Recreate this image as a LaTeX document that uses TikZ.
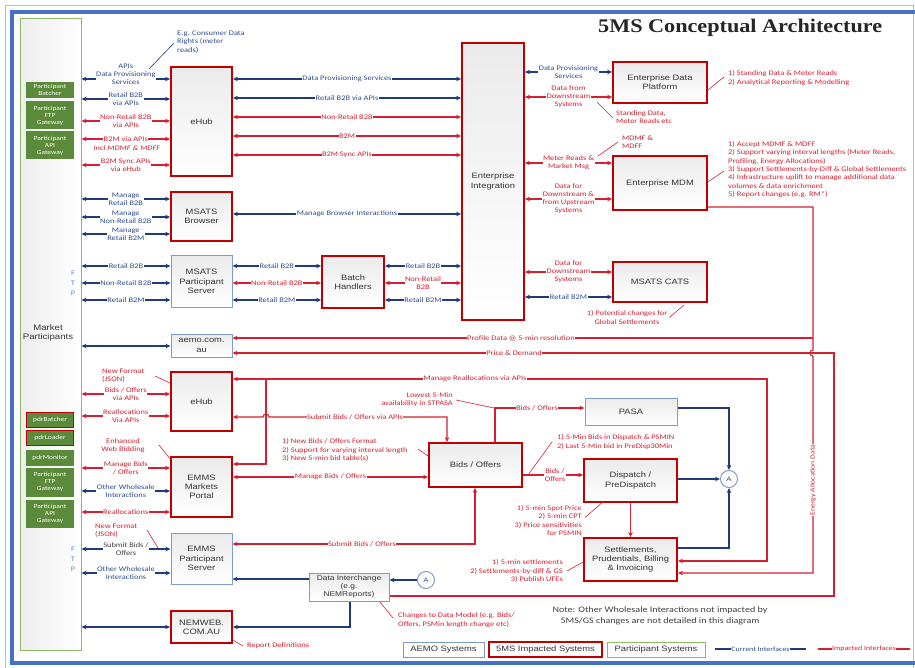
\documentclass[tikz,border=0pt]{standalone}
\usepackage{fontspec}
\setmainfont{Carlito}[FakeStretch=1.2]
\newfontfamily\boxfont{Liberation Sans}[FakeStretch=1.2]
\newfontfamily\titlefont{Liberation Serif}[FakeStretch=1.15]
\usetikzlibrary{arrows.meta,calc,positioning}

\definecolor{navy}{HTML}{1F3B7D}
\definecolor{navytext}{HTML}{2F4C8F}
\definecolor{impred}{HTML}{D42030}
\definecolor{boxred}{HTML}{C00000}
\definecolor{aemoedge}{HTML}{7F9DC2}
\definecolor{partfill}{HTML}{5A8A3A}
\definecolor{partedge}{HTML}{8CBB68}
\definecolor{framebl}{HTML}{4472C4}
\definecolor{ftpblue}{HTML}{5B8FD0}

\tikzset{
  impbox/.style={draw=boxred,line width=1.8pt,top color=gray!16,bottom color=white,
    font=\boxfont\fontsize{7.8}{9.3}\selectfont,text=black!80,align=center,inner sep=0pt},
  aemobox/.style={impbox,draw=aemoedge,line width=1pt},
  legbox/.style={draw,fill=white,minimum height=15pt,inner sep=0pt,
    font=\boxfont\fontsize{7.8}{9}\selectfont,text=black!80},
  partbox/.style={fill=partfill,text=white,font=\fontsize{6.2}{7}\selectfont,align=center,
    inner sep=0pt,minimum width=48pt},
  pdrbox/.style={partbox,draw=boxred,line width=1.2pt,minimum width=47pt},
  cur/.style={navy,line width=1.1pt},
  imp/.style={impred,line width=1.1pt},
  biarr/.style={{Stealth[length=5pt,width=4.5pt]}-{Stealth[length=5pt,width=4.5pt]}},
  fwd/.style={-{Stealth[length=5pt,width=4.5pt]}},
  clbl/.style={fill=white,inner sep=0.5pt,font=\fontsize{7}{8}\selectfont,align=center,text=navytext},
  ilbl/.style={clbl,text=impred},
  inote/.style={inner sep=0pt,font=\fontsize{7}{8.3}\selectfont,text=impred,align=left},
  remark/.style={impred,line width=0.6pt},
  joint/.style={circle,draw=aemoedge,line width=1pt,fill=white,minimum size=17pt,inner sep=0pt,
    font=\boxfont\fontsize{6.5}{7}\selectfont,text=navytext}
}

\begin{document}
\begin{tikzpicture}[x=1pt,y=-1pt]
\useasboundingbox (0,0) rectangle (915,668);
\fill[white] (0,0) rectangle (915,668);
\draw[gray!50,line width=0.8pt] (5,668) -- (5,5) -- (913,5) -- (913,668);
\draw[framebl,line width=4pt] (915,12) -- (11.5,12) -- (11.5,663) -- (915,663);

\node[font=\titlefont\bfseries\fontsize{19.3}{21}\selectfont,anchor=west,inner sep=0pt,text=black!85] (title) at (598,28) {5MS Conceptual Architecture};

\node[draw=partedge,line width=1pt,left color=gray!14,right color=white,minimum width=61pt,minimum height=631pt,inner sep=0pt] (mp) at (50.5,334.5) {};
\node[font=\boxfont\fontsize{8}{9.5}\selectfont,align=center,text=black!80] (mptext) at (48,333) {Market\\Participants};

\node[partbox,minimum height=16pt] (pbatch) at (50,90) {Participant\\Batcher};
\node[partbox,minimum height=28pt] (pftp) at (50,115.5) {Participant\\FTP\\Gateway};
\node[partbox,minimum height=28pt] (papi) at (50,145.5) {Participant\\API\\Gateway};
\node[pdrbox,minimum height=15pt] (pdrb) at (50,420) {pdrBatcher};
\node[pdrbox,minimum height=15pt] (pdrl) at (50,438) {pdrLoader};
\node[partbox,minimum height=16pt] (pdrm) at (50,458) {pdrMonitor};
\node[partbox,minimum height=29pt] (pftpb) at (50,482) {Participant\\FTP\\Gateway};
\node[partbox,minimum height=28pt] (papib) at (50,513.5) {Participant\\API\\Gateway};
\node[font=\fontsize{7}{10}\selectfont,text=ftpblue,align=center] (ftpa) at (73,283) {F\\T\\P};
\node[font=\fontsize{7}{10}\selectfont,text=ftpblue,align=center] (ftpb) at (73,559) {F\\T\\P};

\node[impbox,minimum width=61pt,minimum height=109pt] (ehubA) at (201.5,121.5) {eHub};
\node[impbox,minimum width=61pt,minimum height=49pt] (browser) at (201.5,216.5) {MSATS\\Browser};
\node[aemobox,minimum width=61pt,minimum height=51pt] (mps) at (201.5,281.5) {MSATS\\Participant\\Server};
\node[aemobox,minimum width=61pt,minimum height=23pt] (aemo) at (201.5,345.5) {aemo.com.\\au};
\node[impbox,minimum width=61pt,minimum height=59pt] (ehubB) at (201.5,401.5) {eHub};
\node[impbox,minimum width=61pt,minimum height=60pt] (portal) at (201.5,487) {EMMS\\Markets\\Portal};
\node[aemobox,minimum width=61pt,minimum height=51pt] (eps) at (201.5,558.5) {EMMS\\Participant\\Server};
\node[impbox,minimum width=61pt,minimum height=32pt] (nemweb) at (201.5,627) {NEMWEB.\\COM.AU};

\node[impbox,minimum width=62pt,minimum height=277pt] (ei) at (493,181.5) {Enterprise\\Integration};
\node[impbox,minimum width=62pt,minimum height=52pt] (batch) at (353,282) {Batch\\Handlers};
\node[impbox,minimum width=94pt,minimum height=41pt] (edp) at (660,82.5) {Enterprise Data\\Platform};
\node[impbox,minimum width=94pt,minimum height=54pt] (mdm) at (660,183) {Enterprise MDM};
\node[impbox,minimum width=94pt,minimum height=40pt] (cats) at (660,282) {MSATS CATS};
\node[impbox,minimum width=93pt,minimum height=44pt] (bids) at (475.5,465) {Bids / Offers};
\node[aemobox,minimum width=92pt,minimum height=27pt] (pasa) at (631,411.5) {PASA};
\node[impbox,minimum width=93pt,minimum height=43pt] (disp) at (630.5,480.5) {Dispatch /\\PreDispatch};
\node[impbox,minimum width=93pt,minimum height=43pt] (settle) at (630.5,559.5) {Settlements,\\Prudentials, Billing\\\& Invoicing};
\node[aemobox,minimum width=80pt,minimum height=28pt,font=\boxfont\fontsize{7}{8}\selectfont] (dint) at (349,587) {Data Interchange\\(e.g.\\NEMReports)};
\node[joint] (conA) at (729,479) {A};
\node[joint] (conB) at (426,580) {A};

\draw[cur,biarr] (mp.east |- 0,79) -- (ehubA.west |- 0,79) node[clbl,midway,yshift=5pt] (l1) {APIs\\Data Provisioning\\Services};
\draw[cur,biarr] (mp.east |- 0,99) -- (ehubA.west |- 0,99) node[clbl,midway] (l2) {Retail B2B\\via APIs};
\draw[imp,biarr] (mp.east |- 0,121) -- (ehubA.west |- 0,121) node[ilbl,midway] (l3) {Non-Retail B2B\\via APIs};
\draw[imp,biarr] (mp.east |- 0,139) -- (ehubA.west |- 0,139) node[ilbl,midway] (l4) {B2M via APIs};
\node[ilbl,fill=none,font=\fontsize{7}{8}\selectfont\itshape] (l4b) at (127,148) {Incl MDMF \& MDFF};
\draw[imp,biarr] (mp.east |- 0,165) -- (ehubA.west |- 0,165) node[ilbl,midway] (l5) {B2M Sync APIs\\via eHub};
\draw[cur,biarr] (mp.east |- 0,199) -- (browser.west |- 0,199) node[clbl,midway] (l6) {Manage\\Retail B2B};
\draw[cur,biarr] (mp.east |- 0,217) -- (browser.west |- 0,217) node[clbl,midway] (l7) {Manage\\Non-Retail B2B};
\draw[cur,biarr] (mp.east |- 0,234) -- (browser.west |- 0,234) node[clbl,midway] (l8) {Manage\\Retail B2M};
\draw[cur,biarr] (mp.east |- 0,266) -- (mps.west |- 0,266) node[clbl,midway] (l9) {Retail B2B};
\draw[cur,biarr] (mp.east |- 0,283) -- (mps.west |- 0,283) node[clbl,midway] (l10) {Non-Retail B2B};
\draw[cur,biarr] (mp.east |- 0,300) -- (mps.west |- 0,300) node[clbl,midway] (l11) {Retail B2M};
\draw[cur,biarr] (mp.east |- 0,346) -- (aemo.west |- 0,346);
\draw[imp,biarr] (mp.east |- 0,394) -- (ehubB.west |- 0,394) node[ilbl,midway] (l12) {Bids / Offers\\via APIs};
\draw[imp,biarr] (mp.east |- 0,416) -- (ehubB.west |- 0,416) node[ilbl,midway] (l13) {Reallocations\\Via APIs};
\draw[imp,biarr] (mp.east |- 0,468) -- (portal.west |- 0,468) node[ilbl,midway] (l14) {Manage Bids\\/ Offers};
\draw[cur,biarr] (mp.east |- 0,491) -- (portal.west |- 0,491) node[clbl,midway] (l15) {Other Wholesale\\Interactions};
\draw[imp,biarr] (mp.east |- 0,512) -- (portal.west |- 0,512) node[ilbl,midway] (l16) {Reallocations};
\draw[cur,biarr] (mp.east |- 0,549) -- (eps.west |- 0,549) node[clbl,midway,text=black!75] (l17) {Submit Bids /\\Offers};
\draw[cur,biarr] (mp.east |- 0,573) -- (eps.west |- 0,573) node[clbl,midway] (l18) {Other Wholesale\\Interactions};
\draw[cur,biarr] (mp.east |- 0,627) -- (nemweb.west |- 0,627);

\draw[cur,biarr] (ehubA.east |- 0,79) -- (ei.west |- 0,79) node[clbl,midway] (m1) {Data Provisioning Services};
\draw[cur,biarr] (ehubA.east |- 0,98) -- (ei.west |- 0,98) node[clbl,midway] (m2) {Retail B2B via APIs};
\draw[imp,biarr] (ehubA.east |- 0,117) -- (ei.west |- 0,117) node[ilbl,midway] (m3) {Non-Retail B2B};
\draw[imp,biarr] (ehubA.east |- 0,136) -- (ei.west |- 0,136) node[ilbl,midway] (m4) {B2M};
\draw[imp,biarr] (ehubA.east |- 0,155) -- (ei.west |- 0,155) node[ilbl,midway] (m5) {B2M Sync APIs};
\draw[cur,biarr] (browser.east |- 0,214) -- (ei.west |- 0,214) node[clbl,midway] (m6) {Manage Browser Interactions};
\draw[cur,biarr] (mps.east |- 0,266) -- (batch.west |- 0,266) node[clbl,midway] (m7) {Retail B2B};
\draw[imp,biarr] (mps.east |- 0,283) -- (batch.west |- 0,283) node[ilbl,midway] (m8) {Non-Retail B2B};
\draw[cur,biarr] (mps.east |- 0,300) -- (batch.west |- 0,300) node[clbl,midway] (m9) {Retail B2M};
\draw[cur,biarr] (batch.east |- 0,266) -- (ei.west |- 0,266) node[clbl,midway] (m10) {Retail B2B};
\draw[imp,biarr] (batch.east |- 0,283) -- (ei.west |- 0,283) node[ilbl,midway] (m11) {Non-Retail\\B2B};
\draw[cur,biarr] (batch.east |- 0,300) -- (ei.west |- 0,300) node[clbl,midway] (m12) {Retail B2M};

\draw[cur,biarr] (ei.east |- 0,72) -- (edp.west |- 0,72) node[clbl,midway] (r1) {Data Provisioning\\Services};
\draw[imp,biarr] (ei.east |- 0,97) -- (edp.west |- 0,97) node[ilbl,midway] (r2) {Data from\\Downstream\\Systems};
\draw[imp,biarr] (ei.east |- 0,163) -- (mdm.west |- 0,163) node[ilbl,midway] (r3) {Meter Reads \&\\Market Msg};
\draw[imp,biarr] (ei.east |- 0,199) -- (mdm.west |- 0,199) node[ilbl,midway] (r4) {Data for\\Downstream \&\\from Upstream\\Systems};
\draw[imp,biarr] (ei.east |- 0,272) -- (cats.west |- 0,272) node[ilbl,midway] (r5) {Data for\\Downstream\\Systems};
\draw[cur,biarr] (ei.east |- 0,297) -- (cats.west |- 0,297) node[clbl,midway] (r6) {Retail B2M};

\draw[imp,biarr] (ehubB.east |- 0,379) -- (767,379) -- (767,561) -- (settle.east |- 0,561);
\node[ilbl] (b1) at (475,379) {Manage Reallocations via APIs};
\draw[imp,fwd] (266,379) -- (266,464) -- (portal.east |- 0,464);
\draw[imp,biarr] (ehubB.east |- 0,417) -- (263,417) arc[start angle=180,end angle=360,radius=3] -- (447,417) -- (bids.north -| 447,0);
\node[ilbl] (b2) at (355,417) {Submit Bids / Offers via APIs};
\draw[imp,biarr] (portal.east |- 0,477) -- (bids.west |- 0,477) node[ilbl,midway] (b3) {Manage Bids / Offers};
\draw[imp,fwd] (bids.north -| 495,0) -- (495,408) -- (pasa.west |- 0,408);
\node[ilbl] (b4) at (537,408) {Bids / Offers};
\draw[imp,fwd] (bids.east |- 0,475) -- (disp.west |- 0,475) node[ilbl,midway,xshift=2pt] (b5) {Bids /\\Offers};
\draw[cur,fwd] (disp.east |- 0,479) -- (conA.west);
\draw[cur,fwd] (pasa.east |- 0,408) -| (conA.north);
\draw[cur,fwd] (settle.east |- 0,548) -| (conA.south);
\draw[imp,fwd] (disp.south) -- (settle.north);
\draw[imp,biarr] (eps.east |- 0,544) -- (475,544) -- (bids.south -| 475,0);
\node[ilbl] (b6) at (362,544) {Submit Bids / Offers};
\draw[cur,fwd] (conB.west) -- (dint.east |- conB.west);
\draw[cur,fwd] (dint.west |- 0,579) -- (eps.east |- 0,579);
\draw[cur,fwd] (dint.south -| 350,0) -- (350,627) -- (nemweb.east |- 0,627);

\draw[imp,fwd] (dint.east |- 0,596) -- (834,596) -- (834,353) -- (aemo.east |- 0,353);
\node[ilbl] (b7) at (514,353) {Price \& Demand};
\draw[imp,fwd] (mdm.east |- 0,207) -- (813,207) -- (813,350) arc[start angle=270,end angle=90,radius=3] -- (813,573) -- (settle.east |- 0,573);
\node[ilbl,rotate=90,font=\fontsize{6.4}{7}\selectfont] (b8) at (813,480) {Energy Allocation Data};
\draw[imp,fwd] (813,338) -- (aemo.east |- 0,338);
\node[ilbl] (b9) at (521,338) {Profile Data @ 5-min resolution};

\node[inote,anchor=west,text=navytext] (ecdr) at (177,42) {E.g. Consumer Data\\Rights (meter\\reads)};
\draw[navy,line width=0.6pt] (ecdr.west) ++(-3,1) -- (149,69);
\node[inote,anchor=west] (nsd) at (616,117) {Standing Data,\\Meter Reads etc};
\draw[remark] (nsd.west) ++(-3,1) -- (597,102);
\node[inote,anchor=west] (nmdmf) at (622,142) {MDMF \&\\MDFF};
\draw[remark] (nmdmf.west) ++(-4,0) -- (598,156);
\node[inote,anchor=west,font=\fontsize{7}{9.5}\selectfont] (nedp) at (728,78) {1) Standing Data \& Meter Reads\\2) Analytical Reporting \& Modelling};
\draw[remark] (nedp.west) ++(-4,-1) -- (edp.east |- 0,90);
\node[inote,anchor=west] (nmdm) at (728,169.5) {1) Accept MDMF \& MDFF\\2) Support varying interval lengths (Meter Reads,\\Profiling, Energy Allocations)\\3) Support Settlements-by-Diff \& Global Settlements\\4) Infrastructure uplift to manage additional data\\volumes \& data enrichment\\5) Report changes (e.g. RM*)};
\draw[remark] (nmdm.west) ++(-4,1.5) -- (mdm.east |- 0,182);
\node[inote,align=center] (ncats) at (627,317.5) {1) Potential changes for\\Global Settlements};
\draw[remark] (ncats.east) ++(2,0) -- (684,305);
\node[inote,anchor=west] (nbids) at (282,450) {1) New Bids / Offers Format\\2) Support for varying interval length\\3) New 5-min bid table(s)};
\draw[remark] (418,449) -- (bids.west |- 0,456);
\node[inote,anchor=east,align=right] (nlow) at (453,400) {Lowest 5-Min\\availability in STPASA};
\draw[remark] (nlow.east) ++(3,0) -- (494,408);
\node[inote,anchor=west] (ndisp) at (557,442) {1) 5-Min Bids in Dispatch \& PSMIN\\2) Last 5-Min bid in PreDisp30Min};
\draw[remark] (ndisp.west) ++(-5,0) -- (528,475);
\node[inote,anchor=east,align=right] (nprice) at (582,520.5) {1) 5-min Spot Price\\2) 5-min CPT\\3) Price sensitivities\\for PSMIN};
\draw[remark] (nprice.east) ++(3,-3) -- (604,501);
\node[inote,anchor=east,align=right] (nsettle) at (563,571) {1) 5-min settlements\\2) Settlements-by-diff \& GS\\3) Publish UFEs};
\draw[remark] (nsettle.east) ++(4,0) -- (settle.west |- 0,562);
\node[inote,anchor=west] (ndint) at (398,620) {Changes to Data Model (e.g. Bids/\\Offers, PSMin length change etc)};
\draw[remark] (ndint.west) ++(-5,-2) -- (380,602);
\node[inote,anchor=west] (nrep) at (247,646) {Report Definitions};
\draw[remark] (nrep.west) ++(-4,0) -- (nemweb.east |- 0,640);
\node[inote,anchor=west] (njsona) at (102,376) {New Format\\(JSON)};
\draw[remark] (155,376) -- (ehubB.west |- 0,383);
\node[inote,align=center] (nweb) at (123,446) {Enhanced\\Web Bidding};
\draw[remark] (159,445) -- (portal.west |- 0,459);
\node[inote,anchor=west] (njsonb) at (95,531) {New Format\\(JSON)};
\draw[remark] (147,530) -- (158,548);

\node[font=\fontsize{8.4}{11}\selectfont,text=black!75,align=center] (note) at (660,615.5) {Note: Other Wholesale Interactions not impacted by\\5MS/GS changes are not detailed in this diagram};

\node[legbox,draw=aemoedge,line width=1pt,minimum width=81pt] (legaemo) at (443.5,649.5) {AEMO Systems};
\node[legbox,draw=boxred,line width=1.8pt,minimum width=113pt] (legimp) at (545.5,649.5) {5MS Impacted Systems};
\node[legbox,draw=partedge,line width=1pt,minimum width=98pt] (legpart) at (656,649.5) {Participant Systems};
\draw[cur] (715,649) -- (806,649) node[clbl,midway,font=\fontsize{6.6}{7}\selectfont] (legcur) {Current Interfaces};
\draw[imp] (818,649) -- (910,649) node[ilbl,midway,font=\fontsize{6.6}{7}\selectfont] (legnew) {Impacted Interfaces};
\end{tikzpicture}
\end{document}
